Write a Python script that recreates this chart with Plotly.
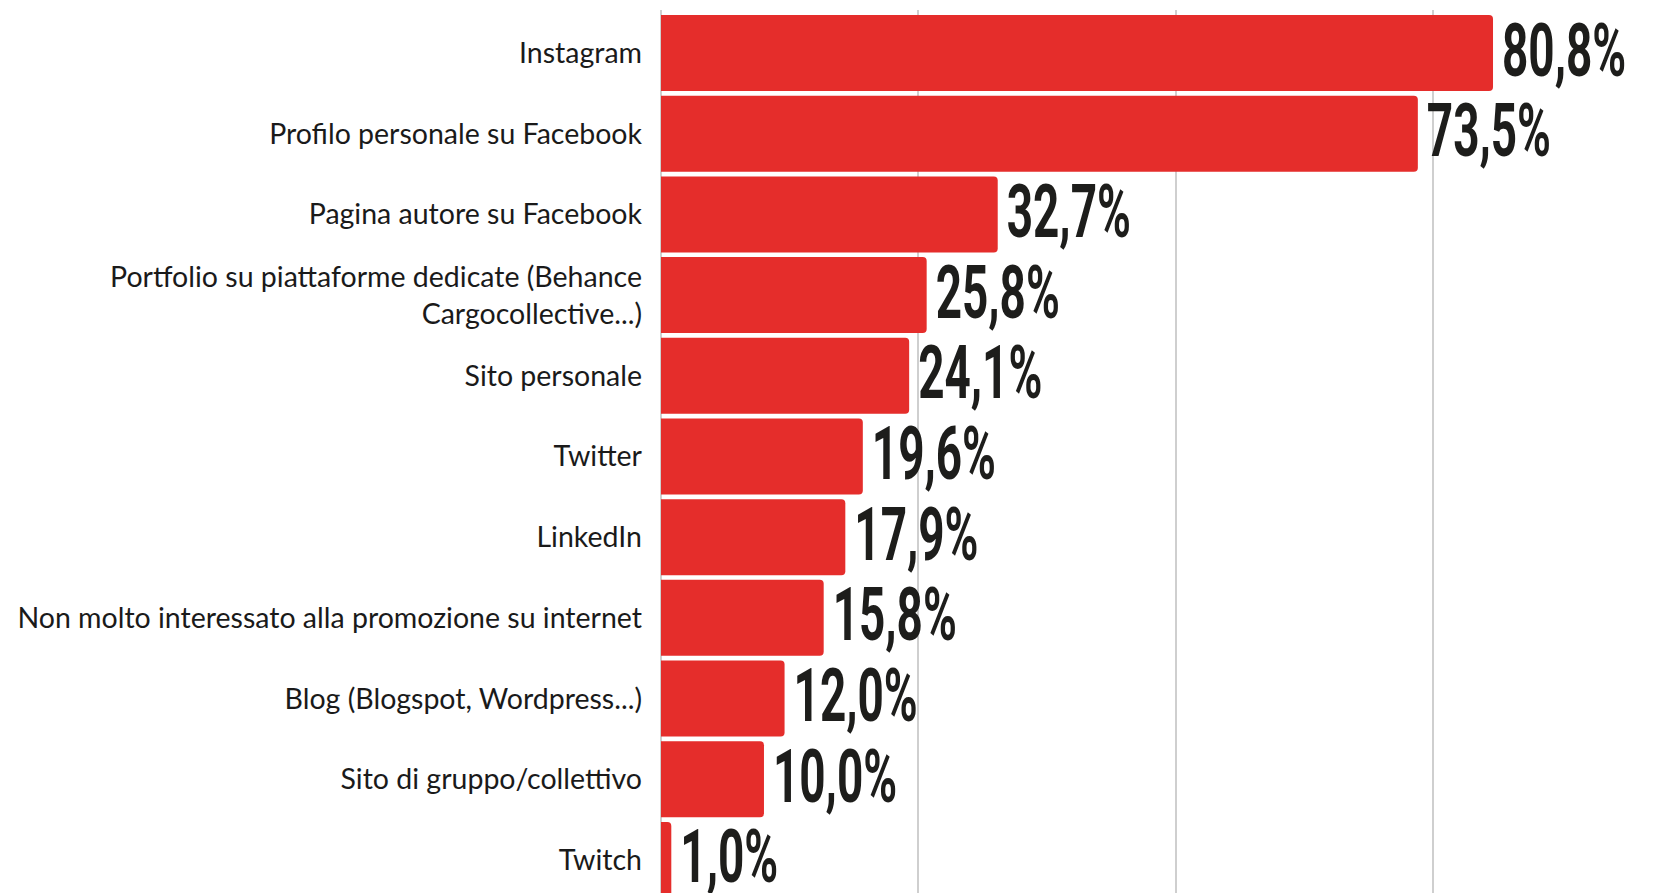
import plotly.graph_objects as go

categories = [
    "Instagram",
    "Profilo personale su Facebook",
    "Pagina autore su Facebook",
    "Portfolio su piattaforme dedicate (Behance<br>Cargocollective...)",
    "Sito personale",
    "Twitter",
    "LinkedIn",
    "Non molto interessato alla promozione su internet",
    "Blog (Blogspot, Wordpress...)",
    "Sito di gruppo/collettivo",
    "Twitch",
]
values = [80.8, 73.5, 32.7, 25.8, 24.1, 19.6, 17.9, 15.8, 12.0, 10.0, 1.0]

BAR_RED = "#E52D2B"
TEXT_DARK = "#1D1D1B"
GRID = "#CFCFCF"

fig = go.Figure(
    go.Bar(
        x=values,
        y=categories,
        orientation="h",
        marker=dict(color=BAR_RED, line=dict(width=0)),
        texttemplate="%{x:.1f}%",
        textposition="outside",
        constraintext="none",
        cliponaxis=False,
        textfont=dict(family="Roboto, sans-serif", size=74, color=TEXT_DARK, weight="bold"),
        hoverinfo="skip",
    )
)

fig.update_layout(
    width=1666,
    height=893,
    margin=dict(l=661, r=0, t=10, b=0),
    paper_bgcolor="white",
    plot_bgcolor="white",
    separators=",.",
    bargap=0.058,
    barcornerradius=4,
    showlegend=False,
)
fig.update_xaxes(
    range=[0, 97.6],
    dtick=25,
    tick0=0,
    showgrid=True,
    gridcolor=GRID,
    gridwidth=1.5,
    zeroline=True,
    zerolinecolor=GRID,
    zerolinewidth=1.5,
    showticklabels=False,
    showline=False,
    fixedrange=True,
)
fig.update_yaxes(
    type="category",
    range=[10.41, -0.533],
    showgrid=False,
    showline=False,
    ticks="",
    ticklabelstandoff=18,
    tickfont=dict(family="Lato, Open Sans, sans-serif", size=28.5, color="#1a1a1a"),
    automargin=False,
    fixedrange=True,
)

# Condense the value labels horizontally (the original uses a condensed display face)
post_js = """
var gd = document.getElementById('{plot_id}');
gd.querySelectorAll('g.point text.bartext').forEach(function(t){
  var bb = t.getBBox();
  var tr = t.getAttribute('transform') || '';
  var x0 = bb.x;
  t.setAttribute('transform', tr + ' translate(' + (x0 + 6) + ',-3) scale(0.62,1) translate(' + (-x0) + ',0)');
});
"""

fig.write_html("out.html", config={"displayModeBar": False}, post_script=post_js)
